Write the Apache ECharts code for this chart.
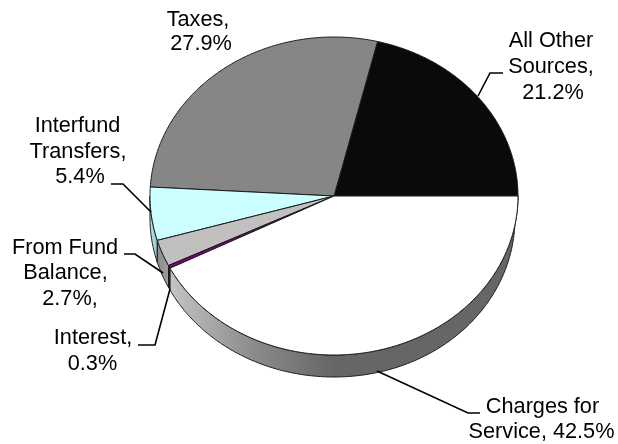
<!DOCTYPE html>
<html>
<head>
<meta charset="utf-8">
<style>html,body{margin:0;padding:0;background:#fff}#chart{width:618px;height:444px}</style>
<script src="https://cdn.jsdelivr.net/npm/echarts@6/dist/echarts.min.js"></script>
</head>
<body>
<div id="chart"></div>
<script>
// Revenue shares, listed counter-clockwise from 3 o'clock
const categories = ['All Other Sources', 'Taxes', 'Interfund Transfers', 'From Fund Balance', 'Interest', 'Charges for Service'];
const shares = [21.2, 27.9, 5.4, 2.7, 0.3, 42.5];
const topColors = ['#0a0a0a', '#868686', '#ccffff', '#c0c0c0', '#800080', '#ffffff'];

// Wrapped label text for each slice; the value is appended from shares
const labelLines = [
  ['All Other', 'Sources,'],
  ['Taxes,'],
  ['Interfund', 'Transfers,'],
  ['From Fund', 'Balance,'],
  ['Interest,'],
  ['Charges for', 'Service, ']
];
const valueSuffix = ['', '', '', ',', '', ''];

// Tilted-disc geometry; rimInset narrows the lower edge towards 3 o'clock
const disc = { cx: 334, cy: 196, rx: 184, ry: 159, depth: 22, rimInset: 3 };

// Centre x and middle y of every label line
const labelPlace = [
  { xs: [551, 551, 553], ys: [41, 67, 93] },
  { xs: [198, 201], ys: [20, 44] },
  { xs: [77.5, 78, 80], ys: [126, 152, 177] },
  { xs: [65, 65.5, 70], ys: [248, 273, 299] },
  { xs: [93, 92.5], ys: [338, 364] },
  { xs: [542.5, 541.5], ys: [407, 432] }
];
const leaders = [
  [[478, 96], [490, 73], [503, 73]],
  null,
  [[151, 212], [123, 184], [111, 184]],
  [[163, 273], [135, 254], [124, 254]],
  [[170, 289], [155, 345], [138, 345]],
  [[377, 371], [468, 413], [480, 413]]
];

const total = shares.reduce((a, b) => a + b, 0);
const starts = [];
shares.reduce((acc, v, i) => { starts[i] = acc; return acc + v; }, 0);

const ang = v => v / total * 360;
const pt = (deg) => {
  const t = deg * Math.PI / 180;
  return [disc.cx + disc.rx * Math.cos(t), disc.cy - disc.ry * Math.sin(t)];
};
const rimPt = (deg) => {
  const t = deg * Math.PI / 180;
  const c = Math.cos(t);
  const rx = disc.rx - disc.rimInset * Math.max(0, c);
  return [disc.cx + rx * c, disc.cy - disc.ry * Math.sin(t) + disc.depth];
};
const arc = (a0, a1, fn) => {
  const out = [];
  const n = Math.max(2, Math.ceil(Math.abs(a1 - a0) / 0.5));
  for (let k = 0; k <= n; k++) out.push(fn(a0 + (a1 - a0) * k / n));
  return out;
};

// Shaded fill of the rim, per slice
function wallFill(i) {
  const G = echarts.graphic.LinearGradient;
  if (i === 2) return new G(150, 0, 158, 0, [{ offset: 0, color: '#b4e4e4' }, { offset: 1, color: '#93c9c9' }], true);
  if (i === 3) return new G(157, 0, 170, 0, [{ offset: 0, color: '#8c8c8c' }, { offset: 1, color: '#a0a0a0' }], true);
  if (i === 4) return '#4a1a4a';
  return new G(170, 0, 334, 0, [
    { offset: 0, color: '#c4c4c4' },
    { offset: 0.5, color: '#8c8c8c' },
    { offset: 1, color: '#666666' }
  ], true);
}

const edge = { stroke: '#1a1a1a', lineWidth: 1, lineJoin: 'round' };

function renderWall(params, api) {
  const i = params.dataIndex;
  const a0 = Math.max(ang(api.value(0)), 180);
  const a1 = Math.min(ang(api.value(0) + api.value(1)), 360);
  if (a1 <= a0) return { type: 'group', children: [] };
  const points = arc(a0, a1, pt).concat(arc(a1, a0, rimPt));
  return { type: 'polygon', shape: { points }, style: Object.assign({ fill: wallFill(i) }, edge), silent: true };
}

function renderTop(params, api) {
  const i = params.dataIndex;
  const a0 = ang(api.value(0));
  const a1 = ang(api.value(0) + api.value(1));
  const points = [[disc.cx, disc.cy]].concat(arc(a0, a1, pt));
  return { type: 'polygon', shape: { points }, style: Object.assign({ fill: topColors[i] }, edge), silent: true };
}

function renderLabel(params, api) {
  const i = params.dataIndex;
  const lines = labelLines[i].slice();
  const valueText = api.value(1).toFixed(1) + '%' + valueSuffix[i];
  if (lines[lines.length - 1].endsWith(' ')) lines[lines.length - 1] += valueText;
  else lines.push(valueText);
  const place = labelPlace[i];
  const children = lines.map((text, k) => ({
    type: 'text',
    style: {
      text, x: place.xs[k], y: place.ys[k],
      align: 'center', verticalAlign: 'middle',
      font: '21.7px "Liberation Sans", Arial, sans-serif', fill: '#000'
    },
    silent: true
  }));
  if (leaders[i]) {
    children.push({
      type: 'polyline',
      shape: { points: leaders[i] },
      style: { stroke: '#000', lineWidth: 1.6, fill: 'none' },
      silent: true
    });
  }
  return { type: 'group', children };
}

const seriesData = shares.map((v, i) => ({ name: categories[i], value: [starts[i], v] }));
const customBase = { type: 'custom', coordinateSystem: 'none', data: seriesData, animation: false, silent: true };

const chart = echarts.init(document.getElementById('chart'), null, { renderer: 'canvas' });
chart.setOption({
  backgroundColor: '#ffffff',
  animation: false,
  tooltip: { show: false },
  series: [
    Object.assign({}, customBase, { name: 'rim', z: 1, renderItem: renderWall }),
    Object.assign({}, customBase, { name: 'top', z: 2, renderItem: renderTop }),
    Object.assign({}, customBase, { name: 'labels', z: 3, renderItem: renderLabel })
  ]
});
</script>
</body>
</html>
